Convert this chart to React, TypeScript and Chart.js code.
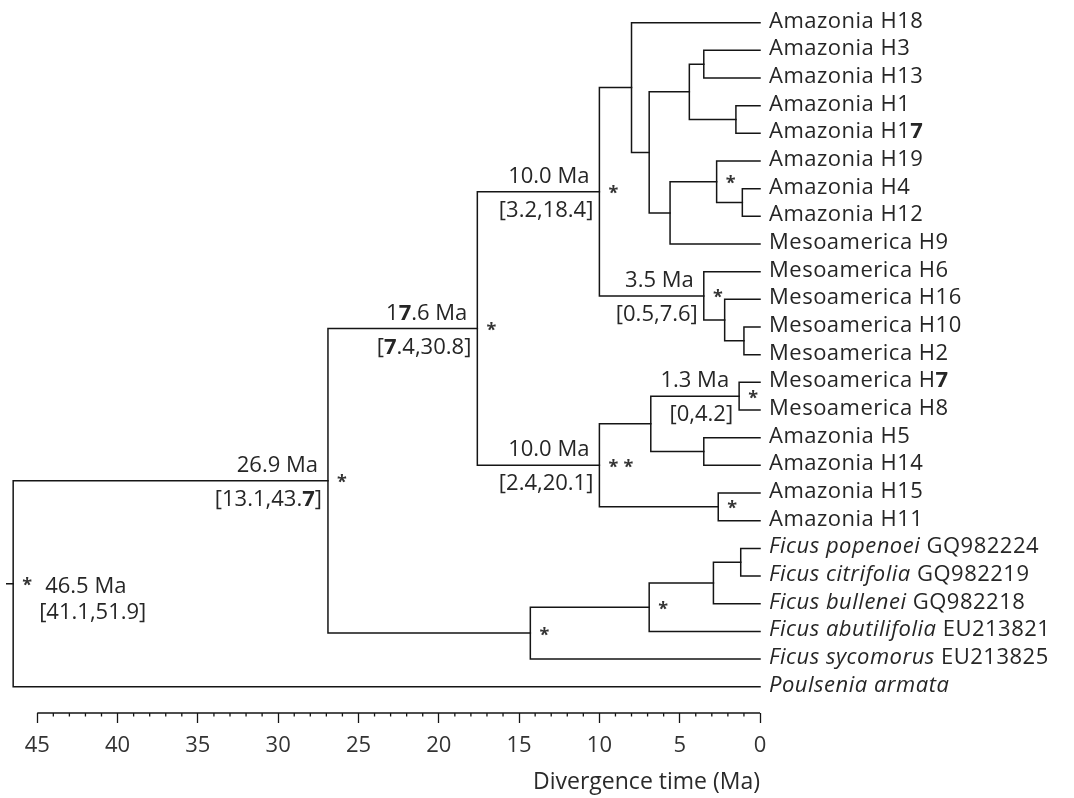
import { useEffect, useRef } from "react";
import { Chart, registerables } from "chart.js";

Chart.register(...registerables);

// Tip labels, top to bottom. ~...~ marks italic text, ^...^ marks bold text.
const leafNames = [
  "Amazonia H18",
  "Amazonia H3",
  "Amazonia H13",
  "Amazonia H1",
  "Amazonia H1^7^",
  "Amazonia H19",
  "Amazonia H4",
  "Amazonia H12",
  "Mesoamerica H9",
  "Mesoamerica H6",
  "Mesoamerica H16",
  "Mesoamerica H10",
  "Mesoamerica H2",
  "Mesoamerica H^7^",
  "Mesoamerica H8",
  "Amazonia H5",
  "Amazonia H14",
  "Amazonia H15",
  "Amazonia H11",
  "~Ficus popenoei~ GQ982224",
  "~Ficus citrifolia~ GQ982219",
  "~Ficus bullenei~ GQ982218",
  "~Ficus abutilifolia~ EU213821",
  "~Ficus sycomorus~ EU213825",
  "~Poulsenia armata~",
];

// Internal node ages (Ma); children refer to tips ("L#") or other nodes ("N#").
const nodeAges = [
  1.5, 3.5, 4.4, 1.1, 2.7, 5.6, 6.9, 8.0, 1.0, 2.2, 3.5, 10.0,
  1.3, 3.5, 6.8, 2.6, 10.0, 17.6, 1.2, 2.9, 6.9, 14.3, 26.9, 46.5,
];
const nodeChildren = [
  ["L3", "L4"], ["L1", "L2"], ["N1", "N0"], ["L6", "L7"], ["L5", "N3"],
  ["N4", "L8"], ["N2", "N5"], ["L0", "N6"], ["L11", "L12"], ["L10", "N8"],
  ["L9", "N9"], ["N7", "N10"], ["L13", "L14"], ["L15", "L16"], ["N12", "N13"],
  ["L17", "L18"], ["N14", "N15"], ["N11", "N16"], ["L19", "L20"], ["N18", "L21"],
  ["N19", "L22"], ["N20", "L23"], ["N17", "N21"], ["N22", "L24"],
];
const ROOT = 23;
const rootStem = 0.4;

// Dated nodes with their 95% intervals
const datedNodes = [23, 22, 17, 11, 16, 10, 12];
const hpdIntervals = [
  "[41.1,51.9]",
  "[13.1,43.^7^]",
  "[^7^.4,30.8]",
  "[3.2,18.4]",
  "[2.4,20.1]",
  "[0.5,7.6]",
  "[0,4.2]",
];

// Support marks on nodes
const supportNodes = [23, 22, 17, 11, 4, 10, 12, 16, 15, 20, 21];
const supportMarks = ["*", "*", "*", "*", "*", "*", "*", "**", "*", "*", "*"];

// Axis ticks in Ma before present
const majorTicks = [0, 5, 10, 15, 20, 25, 30, 35, 40, 45];

const FAMILY = '"Open Sans", "Noto Sans", sans-serif';
const TEXT = "#262626";
const LINE = "#151515";

// time runs right-to-left: ages are plotted as negative x
const tx = (age: number) => -age;

function ageOf(ref: string): number {
  return ref[0] === "L" ? 0 : nodeAges[Number(ref.slice(1))];
}

const yMemo: Record<string, number> = {};
function yOf(ref: string): number {
  if (ref in yMemo) return yMemo[ref];
  const idx = Number(ref.slice(1));
  let y: number;
  if (ref[0] === "L") y = idx;
  else {
    const ch = nodeChildren[idx];
    y = (yOf(ch[0]) + yOf(ch[ch.length - 1])) / 2;
  }
  yMemo[ref] = y;
  return y;
}

type Run = { text: string; italic: boolean; bold: boolean };
function parseRuns(s: string): Run[] {
  const runs: Run[] = [];
  let italic = false;
  let bold = false;
  let buf = "";
  const flush = () => {
    if (buf) runs.push({ text: buf, italic, bold });
    buf = "";
  };
  for (const ch of s) {
    if (ch === "~") { flush(); italic = !italic; }
    else if (ch === "^") { flush(); bold = !bold; }
    else buf += ch;
  }
  flush();
  return runs;
}

function drawRich(
  ctx: CanvasRenderingContext2D,
  s: string,
  x: number,
  y: number,
  align: "left" | "right",
  size: number,
  spacing = 0
) {
  const runs = parseRuns(s);
  const fontOf = (r: Run) =>
    `${r.italic ? "italic " : ""}${r.bold ? "bold " : ""}${size}px ${FAMILY}`;
  (ctx as any).letterSpacing = `${spacing}px`;
  const widths = runs.map((r) => {
    ctx.font = fontOf(r);
    return ctx.measureText(r.text).width;
  });
  const total = widths.reduce((a, b) => a + b, 0);
  let cx = align === "right" ? x - total : x;
  ctx.textAlign = "left";
  ctx.textBaseline = "alphabetic";
  runs.forEach((r, i) => {
    ctx.font = fontOf(r);
    ctx.fillText(r.text, cx, y);
    cx += widths[i];
  });
  (ctx as any).letterSpacing = "0px";
}

const treeAnnotations = {
  id: "treeAnnotations",
  afterDraw(chart: any) {
    const ctx: CanvasRenderingContext2D = chart.ctx;
    const xs = chart.scales.x;
    const ys = chart.scales.y;
    const area = chart.chartArea;
    const px = (age: number) => xs.getPixelForValue(tx(age));
    const py = (v: number) => ys.getPixelForValue(v);

    ctx.save();
    // axis line and minor ticks
    ctx.strokeStyle = LINE;
    ctx.lineWidth = 1.3;
    ctx.beginPath();
    ctx.moveTo(px(45), area.bottom);
    ctx.lineTo(px(0), area.bottom);
    for (let v = 1; v < 45; v++) {
      if (v % 5 === 0) continue;
      ctx.moveTo(px(v), area.bottom);
      ctx.lineTo(px(v), area.bottom + 3.5);
    }
    ctx.stroke();

    // tip labels
    ctx.fillStyle = TEXT;
    leafNames.forEach((name, i) => {
      drawRich(ctx, name, px(0) + 9, py(i) + 5, "left", 22, 0.5);
    });

    // node ages and intervals
    datedNodes.forEach((n, k) => {
      const nx = px(nodeAges[n]);
      const ny = py(yOf("N" + n));
      const age = `${nodeAges[n].toFixed(1).replace(/7/g, "^7^")} Ma`;
      if (n === ROOT) {
        drawRich(ctx, age, nx + 32, ny + 9, "left", 22);
        drawRich(ctx, hpdIntervals[k], nx + 26, ny + 35, "left", 22);
      } else {
        drawRich(ctx, age, nx - 10, ny - 9, "right", 22);
        drawRich(ctx, hpdIntervals[k], nx - 6, ny + 25, "right", 22);
      }
    });

    // support asterisks
    ctx.fillStyle = "#333";
    ctx.font = `bold 18px ${FAMILY}`;
    ctx.textAlign = "center";
    ctx.textBaseline = "alphabetic";
    const m = ctx.measureText("*");
    const asc = m.actualBoundingBoxAscent;
    const desc = m.actualBoundingBoxDescent;
    supportNodes.forEach((n, k) => {
      const nx = px(nodeAges[n]);
      const ny = py(yOf("N" + n)) - 2;
      const base = ny - (desc - asc) / 2;
      const mark = supportMarks[k];
      for (let c = 0; c < mark.length; c++) {
        ctx.fillText("*", nx + 14 + c * 15, base);
      }
    });
    ctx.restore();
  },
};

export default function App() {
  const canvasRef = useRef<HTMLCanvasElement | null>(null);

  useEffect(() => {
    const canvas = canvasRef.current;
    if (!canvas) return;

    const datasets: any[] = nodeChildren.map((ch, i) => {
      const first = ch[0];
      const last = ch[ch.length - 1];
      const a = nodeAges[i];
      return {
        data: [
          { x: tx(ageOf(first)), y: yOf(first) },
          { x: tx(a), y: yOf(first) },
          { x: tx(a), y: yOf(last) },
          { x: tx(ageOf(last)), y: yOf(last) },
        ],
      };
    });
    const rootY = yOf("N" + ROOT);
    datasets.push({
      data: [
        { x: tx(nodeAges[ROOT] + rootStem), y: rootY },
        { x: tx(nodeAges[ROOT]), y: rootY },
      ],
    });
    datasets.forEach((d) => {
      Object.assign(d, {
        showLine: true,
        borderColor: LINE,
        borderWidth: 1.5,
        pointRadius: 0,
        borderCapStyle: "square",
        borderJoinStyle: "miter",
        clip: false,
        tension: 0,
      });
    });

    const chart = new Chart(canvas, {
      type: "scatter",
      data: { datasets },
      options: {
        responsive: false,
        animation: false,
        events: [],
        layout: { padding: { left: 0, right: 314, top: 0, bottom: 0 } },
        plugins: {
          legend: { display: false },
          tooltip: { enabled: false },
        },
        scales: {
          x: {
            type: "linear",
            min: -47.32,
            max: 0,
            afterBuildTicks: (s: any) => {
              s.ticks = majorTicks
                .slice()
                .reverse()
                .map((v) => ({ value: tx(v) }));
            },
            afterFit: (s: any) => {
              s.height = 85;
            },
            border: { display: false },
            grid: {
              drawOnChartArea: false,
              drawTicks: true,
              tickLength: 10,
              tickColor: LINE,
              tickWidth: 1.3,
              color: LINE,
            },
            ticks: {
              padding: 10,
              color: "#333",
              maxRotation: 0,
              autoSkip: false,
              font: { family: FAMILY, size: 22 },
              callback: (v: any) => String(Math.abs(Number(v))),
            },
            title: {
              display: true,
              text: "Divergence time (Ma)",
              align: "end",
              color: "#2a2a2a",
              font: { family: FAMILY, size: 23 },
              padding: { top: 0, bottom: 2 },
            },
          },
          y: {
            type: "linear",
            display: false,
            reverse: true,
            min: -0.82,
            max: 24.95,
          },
        },
      } as any,
      plugins: [treeAnnotations],
    });

    return () => chart.destroy();
  }, []);

  return (
    <div
      style={{
        position: "absolute",
        left: 0,
        top: 0,
        width: 1074,
        height: 798,
        background: "#fff",
      }}
    >
      <canvas ref={canvasRef} width={1074} height={798} style={{ display: "block" }} />
    </div>
  );
}
